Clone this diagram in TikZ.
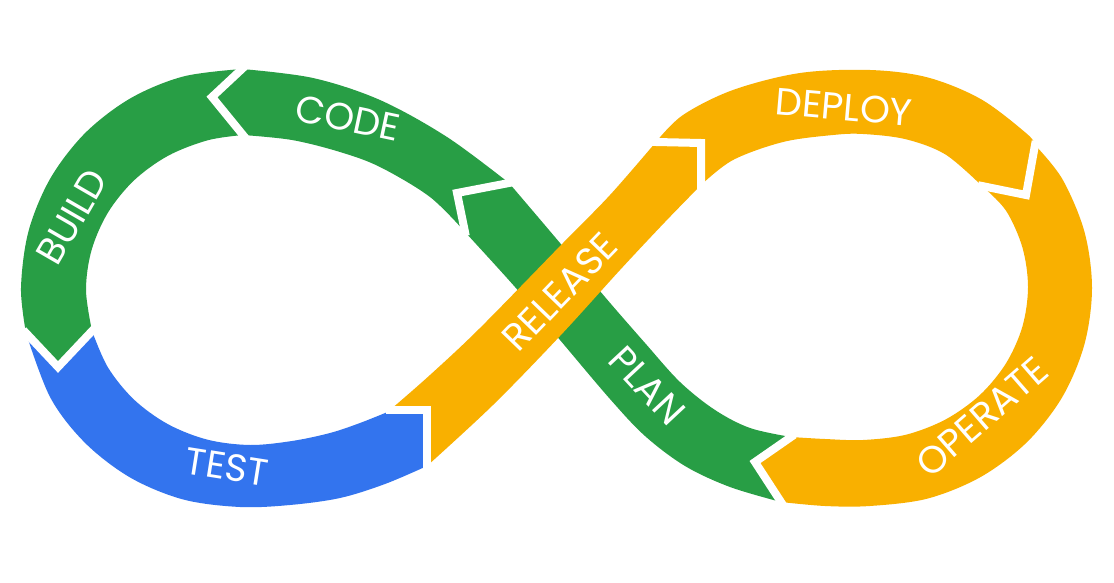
\documentclass[tikz,border=0pt]{standalone}
\usepackage{fontspec}
\setmainfont{Poppins}
\definecolor{gG}{HTML}{289E45}
\definecolor{gB}{HTML}{3374EE}
\definecolor{gY}{HTML}{F9B000}
\tikzset{
  sm/.style={smooth,tension=0.55},
  gap/.style={draw=white,line width=8pt,shorten <=-4pt,shorten >=-4pt},
  lbl/.style={text=white,inner sep=0pt,font=\fontsize{38}{38}\selectfont}
}
\begin{document}
\begin{tikzpicture}[x=1pt,y=-1pt]
\fill[white] (0,0) rectangle (1114,583);
\useasboundingbox (0,0) rectangle (1114,583);
% ---- green: BUILD
\fill[gG] (242,69) -- (212,97) -- plot[sm] coordinates {(243,135) (207.6,140.3) (168,155.8) (134,180.4) (108,212.5) (91.6,250) (86,290) (92,331)}
  -- (58,367) -- plot[sm] coordinates {(26,333) (21,288) (28.5,231.3) (50.3,178.5) (85.1,133.1) (130.5,98.3) (183.3,76.5) (242,69)} -- cycle;
% ---- green: CODE
\fill[gG] (457,193) -- plot[sm] coordinates {(509,183) (447,137) (380,100) (313,78) (242,69)}
  -- (212,97) -- plot[sm] coordinates {(243,135) (292,140) (340,152) (380,167) (430,197) (465,232)} -- cycle;
% ---- green: PLAN
\fill[gG] (457,193) -- plot[sm] coordinates {(509,183) (560,243) (605,297) (645,343) (680,382) (715,410) (750,428) (791,437)}
  -- (755,462) -- plot[sm] coordinates {(781,502) (730,487) (685,466) (645,436) (610,399) (560,340) (515,287) (465,232)} -- cycle;
% ---- blue: TEST
\fill[gB] (58,367) -- plot[sm] coordinates {(92,331) (108,367.5) (134,399.6) (168,424.2) (207.6,439.7) (250,445) (292,441) (330,433) (360,423) (390,411)}
  -- (427,410) -- plot[sm] coordinates {(427,466) (385,484) (340,498) (290,505) (240,507) (183.3,499.5) (130.5,477.7) (85.1,442.9) (50.3,397.5) (26,333)} -- cycle;
% ---- yellow: RELEASE
\fill[gY] (427,410) -- plot[sm] coordinates {(427,466) (493,405) (560,336) (620,270) (665,222) (701,185)}
  -- (701,143) -- plot[sm] coordinates {(656,142) (610,195) (563,243) (480,328) (430,375) (390,410)} -- cycle;
% ---- yellow: DEPLOY
\fill[gY] (701,143) -- plot[sm] coordinates {(701,185) (733,160) (783,142) (833,135) (863,134) (905.7,139.2) (945.5,154.5) (982,186)}
  -- (1026,195) -- plot[sm] coordinates {(1035,145) (1027,133.9) (981,99.2) (927.5,77.4) (870,70) (800,73) (733,90) (683,115) (656,142)} -- cycle;
% ---- yellow: OPERATE
\fill[gY] (1035,145) -- (1026,195) -- plot[sm] coordinates {(982,186) (1005.9,210.5) (1022.4,247.4) (1028,287) (1022.4,326.6) (1005.9,363.5) (979.7,395.2) (945.5,419.5) (905.7,434.8) (863,440) (825,439) (791,437)}
  -- (755,462) -- plot[sm] coordinates {(781,502) (825,506) (870,506) (927.5,498.6) (981,476.8) (1027,442.1) (1062.3,397) (1084.4,344.4) (1092,288) (1084.4,231.6) (1062.3,179) (1035,145)} -- cycle;
% ---- white gaps
\draw[gap] (242,69) -- (212,97) -- (243,135);
\draw[gap] (26,333) -- (58,367) -- (92,331);
\draw[gap] (390,410) -- (427,410) -- (427,466);
\draw[gap] (656,142) -- (701,143) -- (701,185);
\draw[gap] (1035,145) -- (1026,195) -- (982,186);
\draw[gap] (791,437) -- (755,462) -- (781,502);
\draw[gap] (509,183) -- (457,193) -- (465,232);
% ---- labels
\node[lbl,rotate=-12] (code) at (348,118) {CODE};
\node[lbl,rotate=60] (build) at (72,217) {BUILD};
\node[lbl,rotate=-9] (test) at (227,467) {TEST};
\node[lbl,rotate=46] (release) at (560,292) {RELEASE};
\node[lbl,rotate=-47] (plan) at (647,386) {PLAN};
\node[lbl,rotate=-5] (deploy) at (844,107) {DEPLOY};
\node[lbl,rotate=41] (operate) at (982,417) {OPERATE};
\end{tikzpicture}
\end{document}
